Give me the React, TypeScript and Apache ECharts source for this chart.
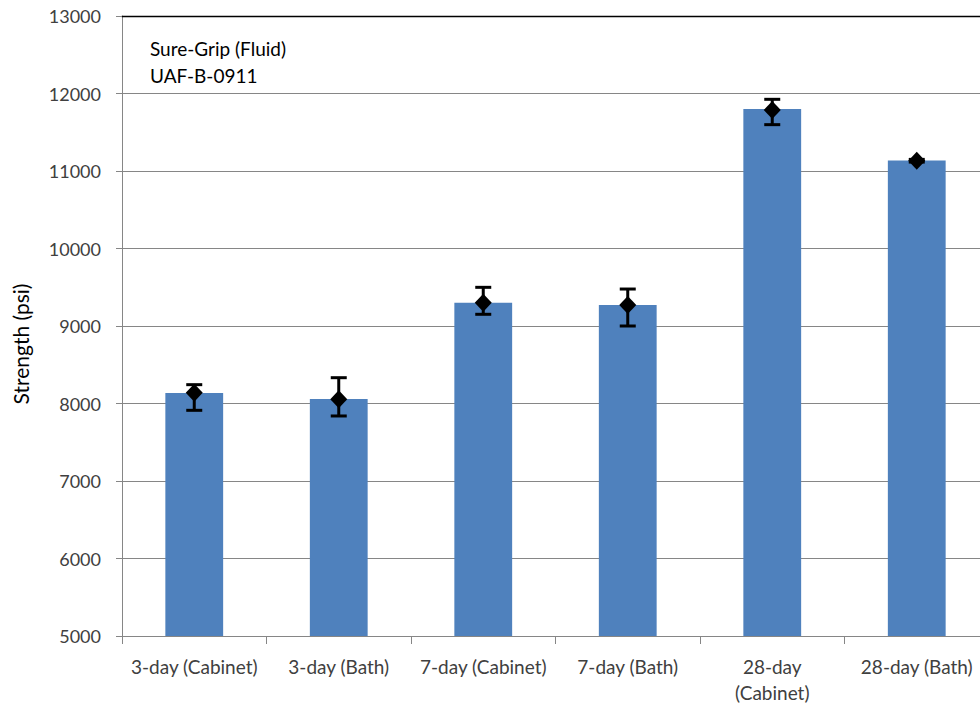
import React, { useEffect, useRef } from "react";
import * as echarts from "echarts";

const categories = [
  "3-day (Cabinet)",
  "3-day (Bath)",
  "7-day (Cabinet)",
  "7-day (Bath)",
  "28-day (Cabinet)",
  "28-day (Bath)",
];
const barValues = [8135, 8058, 9300, 9271, 11800, 11135];
const meanValues = [8140, 8054, 9301, 9271, 11787, 11133];
const lowValues = [7912, 7839, 9151, 9000, 11598, 11115];
const highValues = [8243, 8333, 9499, 9477, 11925, 11150];
const yTicks = { min: 5000, max: 13000, interval: 1000 };
const noteLines = ["Sure-Grip (Fluid)", "UAF-B-0911"];
const yTitle = "Strength (psi)";

const FONT = "Lato";

export default function App() {
  const ref = useRef<HTMLDivElement>(null);
  useEffect(() => {
    const chart = echarts.init(ref.current!, null, { renderer: "svg" });
    const errData = categories.map((_, i) => [i, lowValues[i], highValues[i]]);
    chart.setOption({
      animation: false,
      backgroundColor: "#ffffff",
      textStyle: { fontFamily: FONT },
      grid: { left: 122, top: 16, right: 1, bottom: 69, containLabel: false },
      xAxis: [
        {
          type: "category",
          data: categories,
          axisLine: { lineStyle: { color: "#868686", width: 1 } },
          axisTick: { show: true, length: 8, lineStyle: { color: "#868686" } },
          axisLabel: {
            color: "#404040",
            fontSize: 19,
            fontFamily: FONT,
            margin: 17,
            lineHeight: 26,
            interval: 0,
            formatter: (v: string) => (v.length > 15 ? v.replace(" ", "\n") : v),
          },
        },
        {
          type: "category",
          position: "top",
          data: categories,
          axisLine: { lineStyle: { color: "#000000", width: 1.3 } },
          axisTick: { show: false },
          axisLabel: { show: false },
        },
      ],
      yAxis: {
        type: "value",
        min: yTicks.min,
        max: yTicks.max,
        interval: yTicks.interval,
        axisLine: { show: true, lineStyle: { color: "#868686" } },
        axisTick: { show: true, length: 6, lineStyle: { color: "#868686" } },
        axisLabel: {
          color: "#404040",
          fontSize: 18,
          fontFamily: FONT,
          margin: 21,
          formatter: (v: number) => String(v),
        },
        splitLine: { lineStyle: { color: "#868686", width: 1 } },
      },
      graphic: [
        {
          type: "text",
          left: 150,
          top: 35,
          style: {
            text: noteLines.join("\n"),
            fontSize: 19,
            lineHeight: 27,
            fontFamily: FONT,
            fill: "#000000",
          },
        },
        {
          type: "text",
          x: 20,
          y: 344,
          rotation: Math.PI / 2,
          style: {
            text: yTitle,
            fontSize: 21,
            fontFamily: FONT,
            fill: "#000000",
            align: "center",
            verticalAlign: "middle",
          },
        },
      ],
      series: [
        {
          type: "bar",
          data: barValues,
          barWidth: "40%",
          itemStyle: { color: "#4F81BD" },
          z: 2,
        },
        {
          type: "custom",
          data: errData,
          z: 3,
          renderItem: (params: any, api: any) => {
            const x = api.value(0);
            const lo = api.coord([x, api.value(1)]);
            const hi = api.coord([x, api.value(2)]);
            const half = 8;
            const st = { stroke: "#000000", lineWidth: 3 };
            return {
              type: "group",
              children: [
                { type: "line", shape: { x1: lo[0], y1: lo[1], x2: hi[0], y2: hi[1] }, style: st },
                { type: "line", shape: { x1: lo[0] - half, y1: lo[1], x2: lo[0] + half, y2: lo[1] }, style: st },
                { type: "line", shape: { x1: hi[0] - half, y1: hi[1], x2: hi[0] + half, y2: hi[1] }, style: st },
              ],
            };
          },
        },
        {
          type: "scatter",
          data: meanValues,
          symbol: "diamond",
          symbolSize: [17, 18],
          itemStyle: { color: "#000000", opacity: 1 },
          z: 4,
        },
      ],
    });
    return () => chart.dispose();
  }, []);
  return (
    <div style={{ position: "fixed", left: 0, top: 0, width: 980, height: 705, overflow: "hidden" }}>
      <div ref={ref} style={{ width: 990, height: 705 }} />
    </div>
  );
}
